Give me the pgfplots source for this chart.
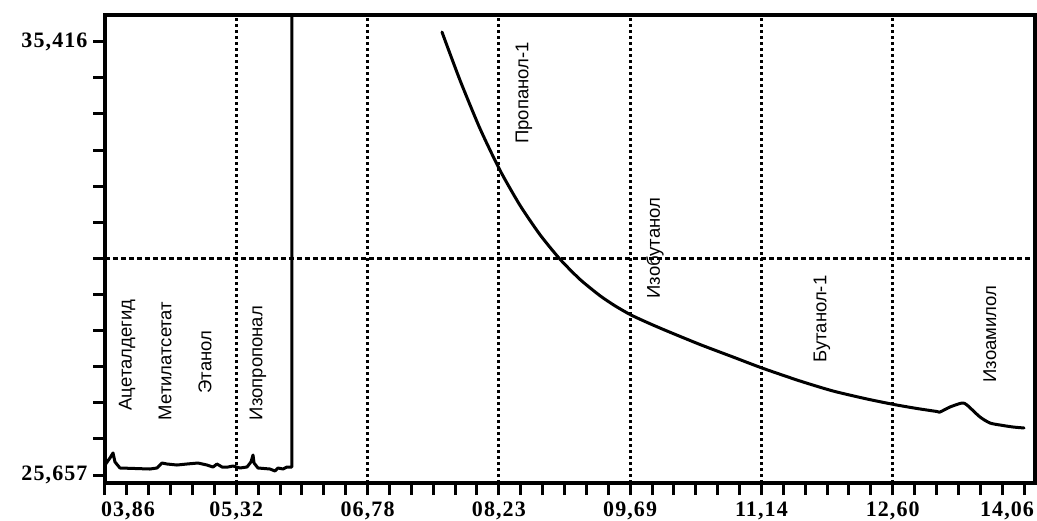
\documentclass[border=0pt]{standalone}
\usepackage{pgfplots}
\pgfplotsset{compat=1.18}
\usepackage{fontspec}
\newfontfamily\tickfont[LetterSpace=5]{Liberation Serif}
\newfontfamily\labfont{Liberation Sans}
\begin{document}
\begin{tikzpicture}
\useasboundingbox (-105pt,-37pt) rectangle (932pt,483pt);
\begin{axis}[
  scale only axis,
  width=930pt, height=468pt,
  xmin=3.86, xmax=14.182,
  ymin=25.477, ymax=36.017,
  axis line style={line width=3.4pt},
  tick style={black, line width=3pt},
  tick align=outside,
  major tick length=12pt, minor tick length=12pt,
  xtick pos=bottom, ytick pos=left,
  xtick={3.86,5.317143,6.774286,8.231429,9.688571,11.145714,12.602857,14.06},
  xticklabels={{\kern46pt 03,86},{05,32},{06,78},{08,23},{09,69},{11,14},{12,60},{14,06\kern34pt}},
  minor x tick num=5,
  ytick={25.657,35.416},
  yticklabels={{25,657},{35,416}},
  minor y tick num=11,
  ticklabel style={font=\tickfont\bfseries\fontsize{22}{26}\selectfont},
  xticklabel style={yshift=-3pt},
  yticklabel style={xshift=-2pt},
  x grid style={black, line width=3pt, dash pattern=on 2.6pt off 3.4pt},
  y grid style={black, line width=2.6pt, dash pattern=on 5pt off 3pt},
  extra x ticks={5.317143,6.774286,8.231429,9.688571,11.145714,12.602857},
  extra x tick labels={},
  extra x tick style={xmajorgrids=true},
  extra y ticks={30.5365},
  extra y tick labels={},
  extra y tick style={ymajorgrids=true},
]
\addplot[black, line width=3pt, line join=round] coordinates {
(3.860,25.882) (3.915,26.040) (3.949,26.153) (3.971,25.950) (4.026,25.815)
(4.359,25.792) (4.437,25.815) (4.493,25.927) (4.548,25.905) (4.659,25.882)
(4.770,25.905) (4.892,25.927) (4.992,25.882) (5.059,25.837) (5.103,25.905)
(5.159,25.837) (5.225,25.837) (5.281,25.860) (5.358,25.815) (5.436,25.837)
(5.480,25.950) (5.503,26.108) (5.514,25.927) (5.558,25.815) (5.691,25.792)
(5.747,25.747) (5.780,25.815) (5.836,25.792) (5.880,25.837) (5.935,25.837)
(5.935,40.000)
};
\addplot[black, line width=3pt, smooth, tension=0.4, line join=round, line cap=round] coordinates {
(7.600,35.634) (7.800,34.549) (8.022,33.459) (8.244,32.520) (8.466,31.731)
(8.688,31.069) (8.910,30.517) (9.132,30.062) (9.354,29.695) (9.520,29.468)
(9.698,29.261) (9.898,29.074) (10.098,28.900)
(10.464,28.596) (10.830,28.315) (11.152,28.067) (11.574,27.774)
(11.940,27.549) (12.317,27.369) (12.617,27.245) (12.872,27.155) (13.094,27.087)
(13.128,27.076) (13.239,27.189) (13.372,27.279) (13.427,27.234) (13.571,26.964)
(13.682,26.828) (13.793,26.783) (13.938,26.738) (14.060,26.716)
};
\begin{scope}[every node/.style={rotate=90, font=\labfont\fontsize{18.5}{22}\selectfont, inner sep=0pt}]
\node at (axis cs:4.104,28.360) {Ацеталдегид};
\node at (axis cs:4.526,28.225) {Метилатсетат};
\node at (axis cs:4.970,28.202) {Этанол};
\node at (axis cs:5.558,28.180) {Изопропонал};
\node at (axis cs:8.510,34.261) {Пропанол-1};
\node at (axis cs:9.964,30.770) {Изобутанол};
\node at (axis cs:11.818,29.171) {Бутанол-1};
\node at (axis cs:13.682,28.833) {Изоамилол};
\end{scope}
\end{axis}
\end{tikzpicture}
\end{document}
